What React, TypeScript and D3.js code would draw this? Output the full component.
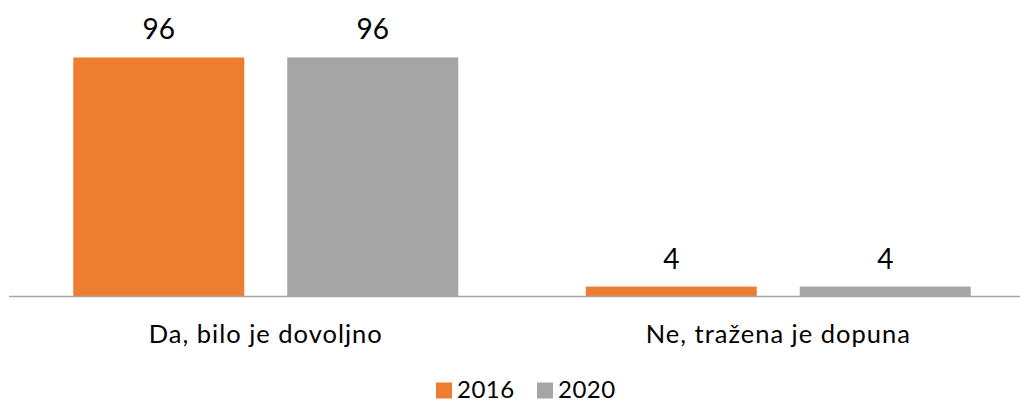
import React from "react";
import * as d3 from "d3";

const categories = ["Da, bilo je dovoljno", "Ne, tražena je dopuna"];
const seriesNames = ["2016", "2020"];
const values2016 = [96, 4];
const values2020 = [96, 4];
const colors = ["#ED7D31", "#A5A5A5"];

const W = 1020;
const H = 402;
const FONT = "Lato, 'Open Sans', sans-serif";

export default function App() {
  const series = [values2016, values2020];
  const baseY = 296.5;
  const x0 = d3.scaleBand<string>().domain(categories).range([9.5, 1034.5]).paddingInner(0).paddingOuter(0);
  const inner = 385 / 512.5;
  const x1 = d3
    .scaleBand<string>()
    .domain(seriesNames)
    .range([(x0.bandwidth() * (1 - inner)) / 2, (x0.bandwidth() * (1 + inner)) / 2])
    .paddingInner(43 / 214)
    .paddingOuter(0);
  const y = d3.scaleLinear().domain([0, 100]).range([baseY, baseY - 249]);

  const legendItems = [
    { name: "2016", x: 436 },
    { name: "2020", x: 537 },
  ];

  return (
    <svg width={W} height={H} style={{ position: "absolute", left: 0, top: 0 }} fontFamily={FONT}>
      <rect width={W} height={H} fill="#fff" />
      {categories.map((c, ci) => (
        <g key={c} transform={`translate(${x0(c)},0)`}>
          {seriesNames.map((s, si) => {
            const v = series[si][ci];
            const bx = x1(s)!;
            const bw = x1.bandwidth();
            return (
              <g key={s}>
                <rect x={bx} y={y(v)} width={bw} height={baseY - y(v)} fill={colors[si]} />
                <text
                  x={bx + bw / 2}
                  y={y(v) - 18}
                  textAnchor="middle"
                  fontSize={28}
                  fill="#000"
                >
                  {v}
                </text>
              </g>
            );
          })}
          <text
            x={x0.bandwidth() / 2}
            y={343}
            textAnchor="middle"
            fontSize={25.5}
            letterSpacing={1}
            fill="#000"
          >
            {c}
          </text>
        </g>
      ))}
      <line x1={9} x2={W} y1={baseY} y2={baseY} stroke="#A6A6A6" strokeWidth={1.5} />
      {legendItems.map((l, i) => (
        <g key={l.name}>
          <rect x={l.x} y={382.5} width={16} height={16} fill={colors[i]} />
          <text x={l.x + 21} y={397.5} fontSize={24} letterSpacing={0.5} fill="#000">
            {l.name}
          </text>
        </g>
      ))}
    </svg>
  );
}
